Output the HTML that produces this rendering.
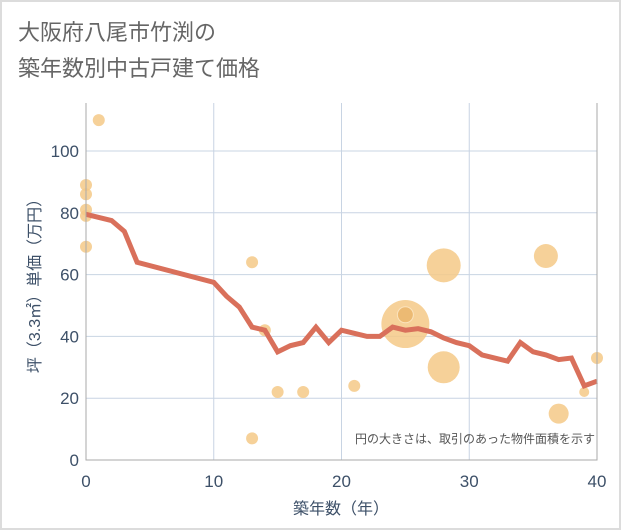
<!DOCTYPE html>
<html><head><meta charset="utf-8">
<style>
html,body{margin:0;padding:0;background:#fff;}
body{width:621px;height:530px;overflow:hidden;}
#frame{position:absolute;left:0;top:0;width:617px;height:526px;border:2px solid #dcdcdc;}
svg text{font-family:"Liberation Sans","Noto Sans CJK JP",sans-serif;}
</style></head><body>
<div id="frame"></div>
<svg id="chart" width="621" height="530" style="position:absolute;left:0;top:0">
<text x="18" y="40" font-size="22" fill="#666">大阪府八尾市竹渕の</text>
<text x="18" y="76" font-size="22" fill="#666">築年数別中古戸建て価格</text>
<g id="grid"></g>
<g id="bubbles"></g>
<g id="line"></g>
<g id="axes"></g>
<text x="595" y="443" font-size="12" fill="#555" text-anchor="end">円の大きさは、取引のあった物件面積を示す</text>
<text x="341" y="514" font-size="16" fill="#3d5068" text-anchor="middle">築年数（年）</text>
<text transform="translate(40,282) rotate(-90)" font-size="16" fill="#3d5068" text-anchor="middle">坪（3.3㎡）単価（万円）</text>
</svg>
<script>
const xTicks=[0,10,20,30,40];
const yTicks=[0,20,40,60,80,100];
const lineYears=[0,1,2,3,4,10,11,12,13,14,15,16,17,18,19,20,21,22,23,24,25,26,27,28,29,30,31,32,33,34,35,36,37,38,39,40];
const lineValues=[79.5,78.5,77.5,74,64,57.5,53,49.5,43,42,35,37,38,43,38,42,41,40,40,43,42,42.5,41.5,39.5,38,37,34,33,32,38,35,34,32.5,33,24,25.5];
const bubbleYears=[1,0,0,0,0,0,13,14,15,17,21,13,25,28,28,36,37,39,40,25];
const bubbleValues=[110,89,86,81,79,69,64,42,22,22,24,7,44,63,30,66,15,22,33,47];
const bubbleSizes=[6,6,6,6,6,6,6,6,6,6,6,6,24,17,16,12,10,5,6,8];
const X0=86,X1=597,Y0=460,Ytop=103;
const xs=v=>X0+(v/40)*(X1-X0);
const ys=v=>Y0-v*3.09;
const NS="http://www.w3.org/2000/svg";
function mk(tag,attrs,parent){const e=document.createElementNS(NS,tag);for(const k in attrs)e.setAttribute(k,attrs[k]);parent.appendChild(e);return e;}
const grid=document.getElementById('grid'),axes=document.getElementById('axes');
xTicks.forEach(t=>{
 const l=mk('line',{x1:xs(t),x2:xs(t),y1:Ytop,y2:Y0,stroke:'#c8d4e3','stroke-width':1},grid);
 
 
 const tx=mk('text',{x:xs(t),y:487,'font-size':17,fill:'#3d5068','text-anchor':'middle'},axes);
 tx.textContent=t;
 
 
});
yTicks.forEach(t=>{
 const l=mk('line',{x1:X0,x2:X1,y1:ys(t),y2:ys(t),stroke:'#c8d4e3','stroke-width':1},grid);
 
 
 const tx=mk('text',{x:79,y:ys(t)+6,'font-size':17,fill:'#3d5068','text-anchor':'end'},axes);
 tx.textContent=t;
 
 
});
const ax=mk('path',{d:`M${X0},${Ytop}V${Y0}H${X1}V${Ytop}`,fill:'none',stroke:'#aaa','stroke-width':1},axes);


const bg=document.getElementById('bubbles');
bubbleYears.forEach((yr,i)=>{
 const last=i===bubbleYears.length-1;
 const c=mk('circle',{cx:xs(yr),cy:ys(bubbleValues[i]),r:bubbleSizes[i],fill:last?'#ebb76f':'#f5c987','fill-opacity':last?0.9:0.85,stroke:last?'#fbe3bd':'none','stroke-width':1},bg);
 
 
});
const pts=lineYears.map((y,i)=>xs(y)+','+ys(lineValues[i])).join(' ');
const pl=mk('polyline',{points:pts,fill:'none',stroke:'#d9705b','stroke-width':5,'stroke-linejoin':'miter'},document.getElementById('line'));


</script>
</body></html>
